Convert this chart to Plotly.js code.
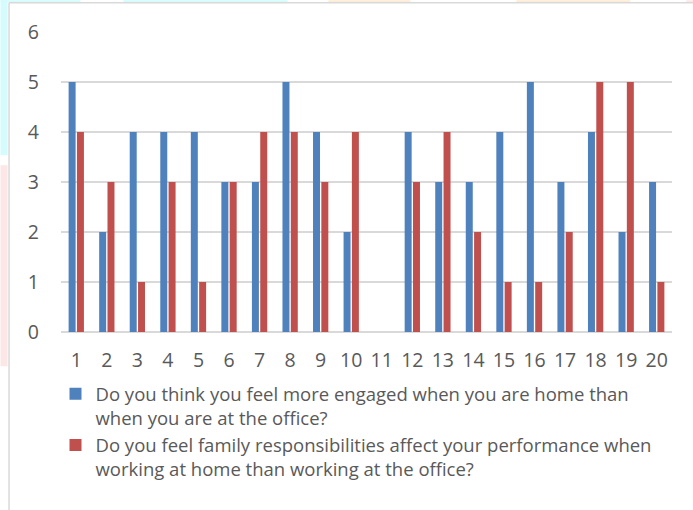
<!DOCTYPE html>
<html>
<head>
<meta charset="utf-8">
<script src="https://cdn.plot.ly/plotly-3.0.1.min.js"></script>
<style>html,body{margin:0;padding:0;background:#fff;}#chart{width:693px;height:510px;}</style>
</head>
<body>
<div id="chart"></div>
<script>
const categories = ["1","2","3","4","5","6","7","8","9","10","11","12","13","14","15","16","17","18","19","20"];
const engagedValues = [5,2,4,4,4,3,3,5,4,2,null,4,3,3,4,5,3,4,2,3];
const familyValues = [4,3,1,3,1,3,4,4,3,4,null,3,4,2,1,1,2,5,5,1];
const seriesNames = [
  "Do you think you feel more engaged when you are home than<br>when you are at the office?",
  "Do you feel family responsibilities affect your performance when<br>working at home than working at the office?"
];
const yTicks = [0,1,2,3,4,5,6];

const L = 60.5, R = 671.7, T = 31.7, B = 331.7;
const W = R - L, H = B - T;
const px = x => (x - L) / W;
const py = y => (B - y) / H;

const traces = [
  {type:'bar', x:categories, y:engagedValues, name:seriesNames[0], marker:{color:'#4F81BD'}},
  {type:'bar', x:categories, y:familyValues, name:seriesNames[1], marker:{color:'#C0504D'}}
];

const bgRects = [
  [0,0,7,155,'#D4FBFD'],
  [0,165,7,366,'#FDE6E6'],
  [0,0,80,2,'#D4FBFD'],
  [123,0,287,2,'#D4FBFD'],
  [328,0,410,2,'#FDEBD6'],
  [516,0,630,2,'#FDEBD6'],
  [686,0,693,2,'#FDE6E6']
];
const shapes = bgRects.map(r => ({type:'rect', xref:'paper', yref:'paper', x0:px(r[0]), x1:px(r[2]), y0:py(r[3]), y1:py(r[1]), fillcolor:r[4], line:{width:0}, layer:'below'}));
shapes.push({type:'line', xref:'paper', yref:'paper', x0:px(8.5), x1:px(8.5), y0:py(2.5), y1:py(512), line:{color:'#D9D9D9', width:1.5}});
shapes.push({type:'line', xref:'paper', yref:'paper', x0:px(8.5), x1:px(695), y0:py(2.5), y1:py(2.5), line:{color:'#D9D9D9', width:1.5}});

const FONT = '"Open Sans", Lato, sans-serif';
const layout = {
  width:693, height:510,
  margin:{l:L, r:693-R, t:T, b:510-B, pad:0},
  paper_bgcolor:'#ffffff', plot_bgcolor:'#ffffff',
  font:{family:FONT, color:'#595959', size:18},
  barmode:'group', bargap:0.455, bargroupgap:0.16,
  showlegend:true,
  legend:{orientation:'v', x:px(55), xanchor:'left', y:py(375), yanchor:'top', valign:'top', font:{family:FONT, size:18.5, color:'#595959'}, tracegroupgap:6, bgcolor:'rgba(0,0,0,0)'},
  xaxis:{type:'category', range:[-0.5,19.5], showgrid:false, zeroline:false, showline:false, ticks:'', ticklabelstandoff:14, tickfont:{family:FONT, size:19.5, color:'#595959'}, fixedrange:true},
  yaxis:{range:[0,6], tickvals:yTicks, ticktext:yTicks.map(String), showgrid:true, gridcolor:'#D9D9D9', gridwidth:1.5, zeroline:true, zerolinecolor:'#D9D9D9', zerolinewidth:2, showline:false, ticks:'', ticklabelstandoff:21, tickfont:{family:FONT, size:19.5, color:'#595959'}, fixedrange:true},
  shapes:shapes
};

Plotly.newPlot('chart', traces, layout, {displayModeBar:false, staticPlot:true});
</script>
</body>
</html>
